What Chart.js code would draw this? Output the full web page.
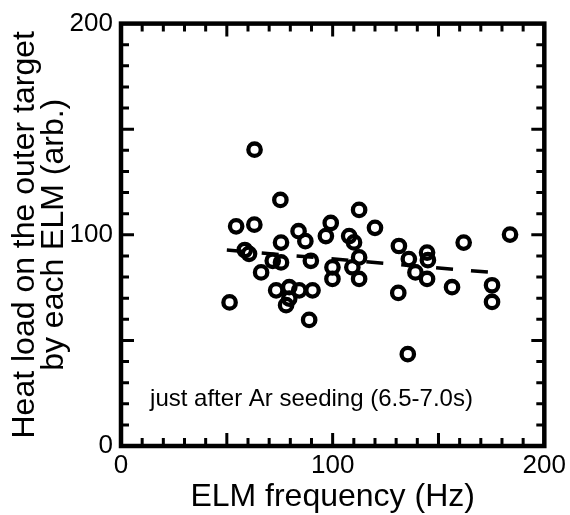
<!DOCTYPE html>
<html>
<head>
<meta charset="utf-8">
<script src="https://cdn.jsdelivr.net/npm/chart.js@4/dist/chart.umd.min.js"></script>
<style>
  html, body { margin: 0; padding: 0; background: #fff; }
  #wrap { width: 570px; height: 515px; }
</style>
</head>
<body>
<div id="wrap"><canvas id="grafico" width="570" height="515"></canvas></div>
<script>
'use strict';

// --- Data ---
const elmFreq = [51.3, 54.4, 58.5, 60.5, 63, 63.1, 66.2, 71.7, 75.6, 73.3, 75.3, 75.6, 79.5, 79.5, 78,
  84.2, 83.9, 87.1, 89.7, 90.5, 88.9, 99.1, 96.8, 99.9, 99.9, 107.8, 110.1, 109.3, 112.5, 112.5,
  112.5, 120, 131.3, 131, 136, 139.1, 144.6, 145, 144.6, 135.5, 156.4, 161.9, 175.3, 175.3, 183.8];
const heatLoad = [68, 104, 92.8, 91, 104.8, 140.3, 82.2, 87.7, 86.9, 73.7, 116.5, 96.3, 75.2, 69.8, 66.7,
  73.7, 101.7, 97, 87.7, 73.7, 59.7, 105.6, 99.4, 84.6, 79.1, 99.4, 96.4, 84.6, 89.3, 79.1,
  111.8, 103.3, 94.7, 72.5, 88.5, 82.2, 91.6, 88, 79.1, 43.5, 75.2, 96.3, 76.1, 68.2, 100.1];
const fitFreq = [50, 175];
const fitLoad = [92.8, 82.2];
const tickLabels = [0, 100, 200];

const FONT = '"Liberation Sans", Arial, Helvetica, sans-serif';

// --- Frame, inward ticks and caption ---
const framePlugin = {
  id: 'frame',
  beforeDatasetsDraw(chart) {
    const { ctx, chartArea: a, scales: { x, y } } = chart;
    ctx.save();
    ctx.strokeStyle = '#000';
    ctx.lineCap = 'butt';
    ctx.lineWidth = 3;
    for (let v = 10; v < 200; v += 10) {
      const len = v % 50 === 0 ? 13 : 8;
      const px = x.getPixelForValue(v);
      const py = y.getPixelForValue(v);
      ctx.beginPath();
      ctx.moveTo(px, a.bottom); ctx.lineTo(px, a.bottom - len);
      ctx.moveTo(px, a.top); ctx.lineTo(px, a.top + len);
      ctx.moveTo(a.left, py); ctx.lineTo(a.left + len, py);
      ctx.moveTo(a.right, py); ctx.lineTo(a.right - len, py);
      ctx.stroke();
    }
    ctx.lineWidth = 4.5;
    ctx.strokeRect(a.left, a.top, a.right - a.left, a.bottom - a.top);

    ctx.fillStyle = '#000';
    ctx.font = '24px ' + FONT;
    ctx.textAlign = 'center';
    ctx.textBaseline = 'middle';
    ctx.fillText('just after Ar seeding (6.5-7.0s)', x.getPixelForValue(90), y.getPixelForValue(22));
    ctx.restore();
  }
};

new Chart(document.getElementById('grafico').getContext('2d'), {
  type: 'scatter',
  data: {
    datasets: [
      {
        label: 'heat load',
        data: elmFreq.map((f, i) => ({ x: f, y: heatLoad[i] })),
        pointStyle: 'circle',
        pointRadius: 6.2,
        pointBorderWidth: 4.3,
        borderColor: '#000',
        backgroundColor: 'rgba(0,0,0,0)'
      },
      {
        label: 'fit',
        data: fitFreq.map((f, i) => ({ x: f, y: fitLoad[i] })),
        showLine: true,
        pointRadius: 0,
        borderColor: '#000',
        borderWidth: 3.5,
        borderDash: [17, 18]
      }
    ]
  },
  options: {
    responsive: false,
    animation: false,
    layout: { padding: { top: 18, right: 24, bottom: 0, left: 0 } },
    plugins: { legend: { display: false }, tooltip: { enabled: false } },
    scales: {
      x: {
        type: 'linear', min: 0, max: 200,
        afterFit(s) { s.height = 69; },
        afterBuildTicks(s) { s.ticks = tickLabels.map(v => ({ value: v })); },
        grid: { display: false, drawTicks: false },
        border: { display: false },
        ticks: { color: '#000', padding: 4, maxRotation: 0, font: { family: FONT, size: 26 } },
        title: {
          display: true, text: 'ELM frequency (Hz)', color: '#000',
          padding: { top: 0, bottom: 0 },
          font: { family: FONT, size: 32, lineHeight: 1.1 }
        }
      },
      y: {
        type: 'linear', min: 0, max: 200,
        afterFit(s) { s.width = 121; },
        afterBuildTicks(s) { s.ticks = tickLabels.map(v => ({ value: v })); },
        grid: { display: false, drawTicks: false },
        border: { display: false },
        ticks: { color: '#000', padding: 8, font: { family: FONT, size: 26 } },
        title: {
          display: true, text: ['Heat load on the outer target', 'by each ELM (arb.)'], color: '#000',
          padding: { top: 11, bottom: 0 },
          font: { family: FONT, size: 32, lineHeight: 0.9 }
        }
      }
    }
  },
  plugins: [framePlugin]
});
</script>
</body>
</html>
